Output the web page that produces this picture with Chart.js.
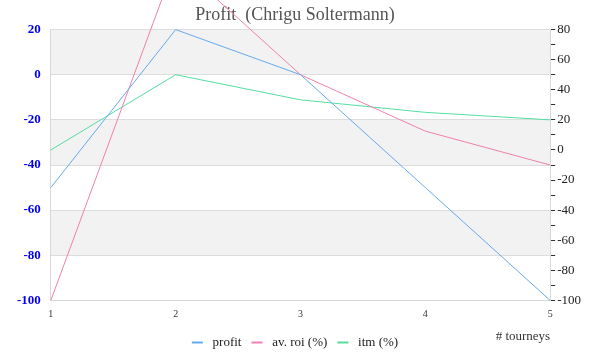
<!DOCTYPE html>
<html>
<head>
<meta charset="utf-8">
<script src="https://cdn.jsdelivr.net/npm/chart.js@4.4.1/dist/chart.umd.min.js"></script>
<style>
  html, body { margin: 0; padding: 0; background: #fff; }
  #wrap { width: 600px; height: 360px; }
</style>
</head>
<body>
<div id="wrap"><canvas id="c" width="600" height="360"></canvas></div>
<script>
'use strict';
// Profit chart — 3 series over number of tourneys, two y axes

const TOURNEYS = ['1', '2', '3', '4', '5'];
const PROFIT = [-50, 20, 0, -50, -100];   // left axis
const AV_ROI = [-100, 50, 0, -25, -40];   // left axis (goes above the top at 2)
const ITM = [0, 50, 33.3, 25, 20];        // right axis
const BANDS = [[0, 20], [-40, -20], [-80, -60]]; // grey stripes on left axis

const SERIF = "'Liberation Serif', serif";

// alternating grey stripes behind the plot
const bandPlugin = {
  id: 'bands',
  beforeDraw(chart) {
    const { ctx, chartArea: a, scales } = chart;
    const y = scales.y;
    ctx.save();
    ctx.fillStyle = '#f2f2f2';
    BANDS.forEach(([lo, hi]) => {
      const t = y.getPixelForValue(hi), b = y.getPixelForValue(lo);
      ctx.fillRect(a.left, t, a.right - a.left, b - t);
    });
    ctx.restore();
  }
};

const line = (label, data, axis, color) => ({
  label, data, yAxisID: axis, borderColor: color, backgroundColor: color,
  borderWidth: 1, pointRadius: 0, tension: 0, clip: false,
});

new Chart(document.getElementById('c').getContext('2d'), {
  type: 'line',
  data: {
    labels: TOURNEYS,
    datasets: [
      line('profit', PROFIT, 'y', '#66aaee'),
      line('av. roi (%)', AV_ROI, 'y', '#f080b0'),
      line('itm (%)', ITM, 'y2', '#55dd9f'),
    ],
  },
  options: {
    responsive: false, animation: false,
    layout: { padding: { left: 7, right: 17, top: 0, bottom: 1 } },
    plugins: {
      title: { display: true, text: 'Profit  (Chrigu Soltermann)', color: '#555', font: { family: SERIF, size: 18, weight: 'normal' }, padding: { top: 4, bottom: 4 } },
      legend: {
        position: 'bottom',
        labels: {
          boxWidth: 11, boxHeight: 2, color: '#222', font: { family: SERIF, size: 13 }, padding: 10,
          generateLabels: ch => ch.data.datasets.map((d, i) => ({
            text: ' ' + d.label, fillStyle: d.borderColor, strokeStyle: d.borderColor, lineWidth: 0,
            fontColor: '#222', hidden: false, datasetIndex: i,
          })),
        }
      },
      tooltip: { enabled: false },
    },
    scales: {
      x: {
        offset: false,
        grid: { display: false, drawTicks: false },
        border: { color: '#d8d8d8' },
        ticks: { color: '#333', font: { family: SERIF, size: 10 }, padding: 8 },
        title: { display: true, text: '# tourneys', align: 'end', color: '#333', font: { family: SERIF, size: 13 }, padding: { top: 0, bottom: -18 } },
      },
      y: {
        position: 'left', min: -100, max: 20,
        grid: { color: '#dddddd', drawTicks: false },
        border: { color: '#d8d8d8' },
        ticks: { stepSize: 20, color: '#0000ee', font: { family: SERIF, size: 13, weight: 'bold' }, padding: 10 },
      },
      y2: {
        position: 'right', min: -100, max: 80,
        grid: { drawOnChartArea: false, tickLength: 5, tickColor: '#333' },
        border: { color: '#d8d8d8' },
        ticks: { stepSize: 10, color: '#222', font: { family: SERIF, size: 13 }, padding: 2, autoSkip: false,
          callback: v => (v % 20 === 0 ? String(v) : '') },
      },
    },
  },
  plugins: [bandPlugin],
});
</script>
</body>
</html>
